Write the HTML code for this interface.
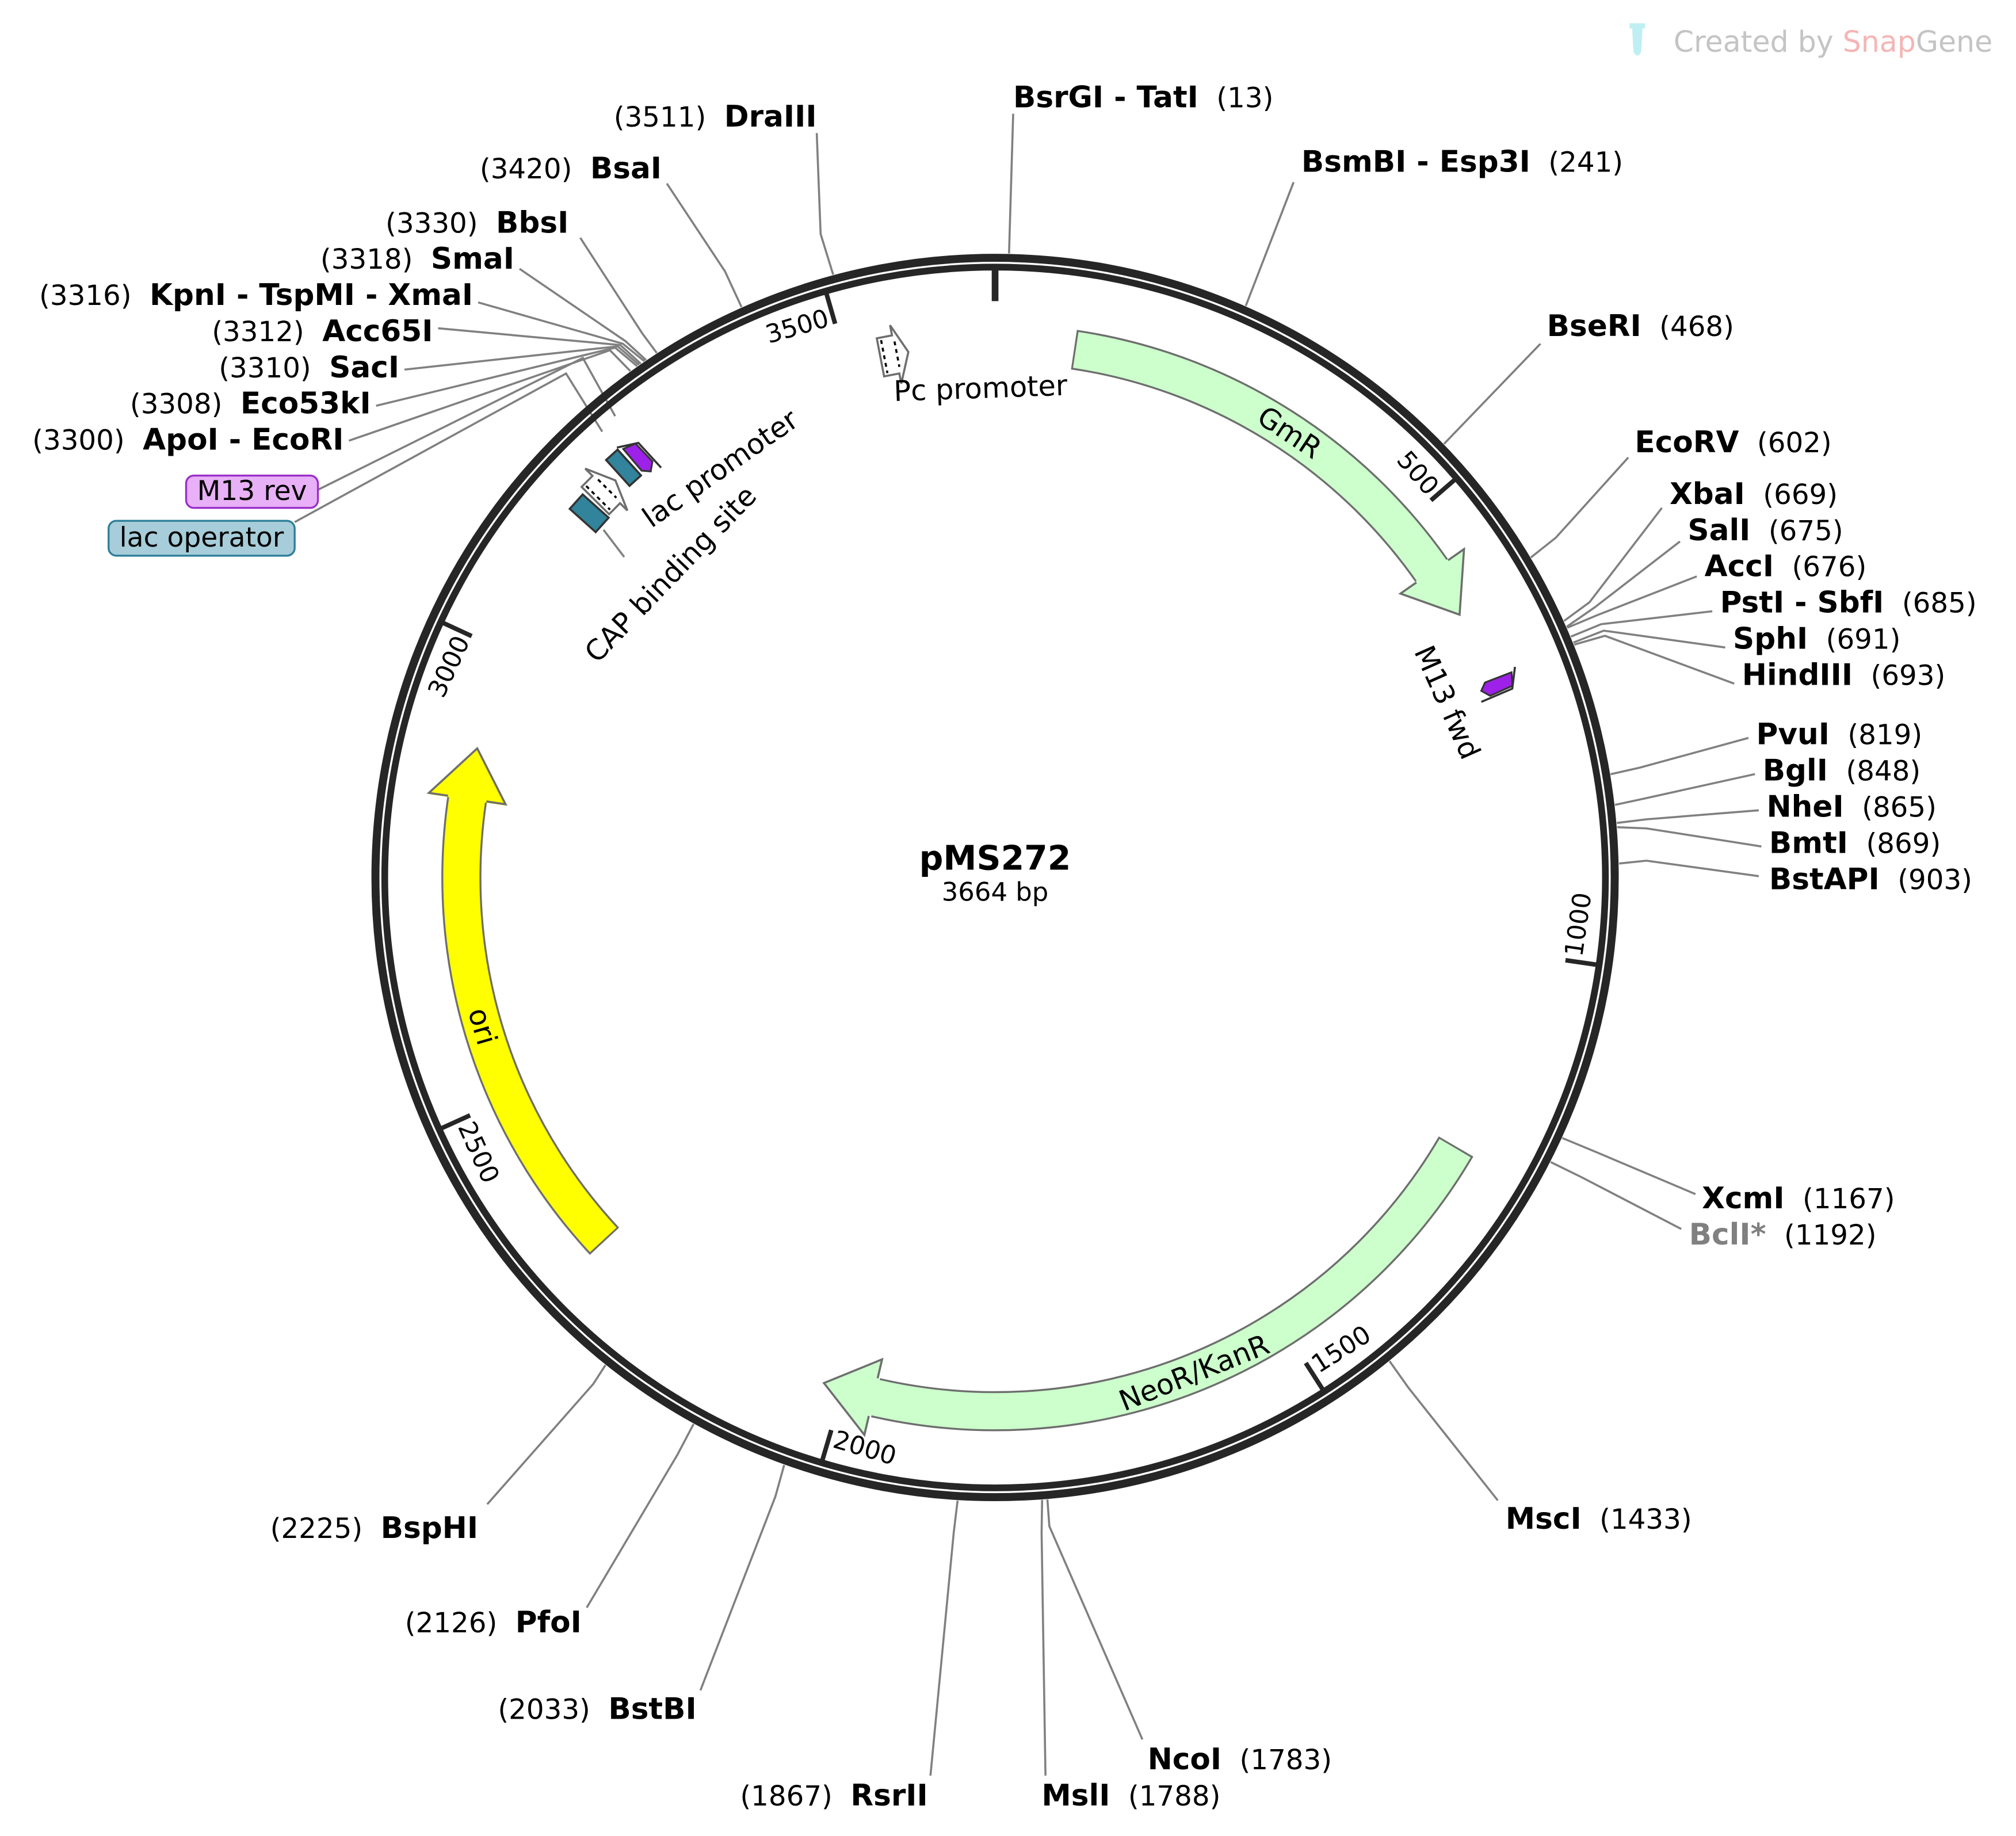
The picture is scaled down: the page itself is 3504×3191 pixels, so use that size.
<!DOCTYPE html>
<html><head><meta charset="utf-8"><style>
html,body{margin:0;padding:0;background:#fff;}
svg{display:block;font-family:"DejaVu Sans","Liberation Sans",sans-serif;}
</style></head><body>
<svg width="3504" height="3191" viewBox="0 0 1560 1420.7" xmlns="http://www.w3.org/2000/svg">
<rect x="0" y="0" width="1560" height="1421" fill="#fff"/>
<!-- SnapGene logo -->
<g transform="translate(-5,0)">
<rect x="1266" y="18" width="12" height="4" fill="#bfeff2"/>
<path d="M1268 22 L1276 22 L1275 40 Q1272 46 1269 40 Z" fill="#bfeff2"/>
<text x="1300" y="40" font-size="22.5" fill="#c4c4c4">Created by <tspan fill="#f5b5b5">Snap</tspan><tspan fill="#c4c4c4">Gene</tspan></text>
</g>
<g transform="translate(-6,-4)">
<!-- site lines -->
<g fill="none" stroke="#808080" stroke-width="1.6">
<polyline points="650.7,216.5 641,185 638,107"/>
<polyline points="579.8,241.6 567,214 522,146"/>
<polyline points="514.2,277.1 503,262 455,188"/>
<polyline points="505.9,282.6 490,268 408,212"/>
<polyline points="504.6,283.5 488,270 376,238"/>
<polyline points="501.8,285.4 486,271 345,258"/>
<polyline points="500.4,286.3 484,272 319,290"/>
<polyline points="499,287.3 482,273 297,318"/>
<polyline points="493.7,291.1 478,275 276,345"/>
<polyline points="252,383 457,281 482,326"/>
<polyline points="234,408 444,293 472,338"/>
<polyline points="473,414 489,435"/>
<polyline points="786.8,200.1 790,92"/>
<polyline points="970,240.7 1007,145"/>
<polyline points="1123.4,347.5 1198,270"/>
<polyline points="1190.6,435.4 1210,420 1266,358"/>
<polyline points="1216.3,484.5 1236,470 1292,397"/>
<polyline points="1218.3,489 1240,474 1306,423"/>
<polyline points="1218.7,489.8 1242,480 1319,450"/>
<polyline points="1221.6,496.6 1245,487 1331,477"/>
<polyline points="1223.5,501.2 1247,492 1341,505"/>
<polyline points="1224.1,502.8 1248,496 1348,533"/>
<polyline points="1252.3,603.1 1275,598 1359,575"/>
<polyline points="1255.7,626.8 1278,622 1364,603"/>
<polyline points="1257.2,640.8 1280,638 1367,631"/>
<polyline points="1257.4,644.1 1280,645 1369,659"/>
<polyline points="1258.9,672.2 1280,670 1367,682"/>
<polyline points="1214.9,884.6 1240,895 1318,928"/>
<polyline points="1205.9,903.2 1230,915 1307,955"/>
<polyline points="1081.3,1057.3 1096,1078 1165,1165"/>
<polyline points="816.5,1164.3 818,1185 890,1350"/>
<polyline points="812.4,1164.6 812,1190 815,1378"/>
<polyline points="747,1165.1 744,1190 726,1378"/>
<polyline points="612.8,1137.6 606,1162 548,1312"/>
<polyline points="542.7,1105.9 530,1130 460,1248"/>
<polyline points="474.5,1060.3 465,1075 383,1168"/>
</g>
<!-- ring -->
<circle cx="776" cy="683" r="479.5" fill="none" stroke="#262626" stroke-width="6.2"/>
<circle cx="776" cy="683" r="472.3" fill="none" stroke="#262626" stroke-width="5.2"/>
<!-- ticks -->
<g stroke="#262626">
<line x1="776" y1="213" x2="776" y2="237" stroke-width="5.2"/>
<line x1="776" y1="213" x2="776" y2="237" stroke-width="3.5" transform="rotate(49.13 776 683)"/>
<line x1="776" y1="213" x2="776" y2="237" stroke-width="3.5" transform="rotate(98.25 776 683)"/>
<line x1="776" y1="213" x2="776" y2="237" stroke-width="3.5" transform="rotate(147.38 776 683)"/>
<line x1="776" y1="213" x2="776" y2="237" stroke-width="3.5" transform="rotate(196.51 776 683)"/>
<line x1="776" y1="213" x2="776" y2="237" stroke-width="3.5" transform="rotate(245.63 776 683)"/>
<line x1="776" y1="213" x2="776" y2="237" stroke-width="3.5" transform="rotate(294.76 776 683)"/>
<line x1="776" y1="213" x2="776" y2="237" stroke-width="3.5" transform="rotate(343.89 776 683)"/>
</g>
<g font-size="19.5" fill="#000" dominant-baseline="central">
<text x="772" y="231" text-anchor="end" transform="rotate(49.13 776 683)">500</text>
<g transform="rotate(98.25 776 683)"><text x="780" y="231" transform="rotate(180 776 231)">1000</text></g>
<g transform="rotate(147.38 776 683)"><text x="780" y="231" transform="rotate(180 776 231)">1500</text></g>
<g transform="rotate(196.51 776 683)"><text x="780" y="231" transform="rotate(180 776 231)">2000</text></g>
<g transform="rotate(245.63 776 683)"><text x="780" y="231" transform="rotate(180 776 231)">2500</text></g>
<text x="772" y="231" text-anchor="end" transform="rotate(294.76 776 683)">3000</text>
<text x="772" y="231" text-anchor="end" transform="rotate(343.89 776 683)">3500</text>
</g>
<!-- features -->
<g transform="rotate(-90 776 683)" fill="none">
<circle cx="776" cy="683" r="413" pathLength="360" stroke="#6e6e6e" stroke-width="31" stroke-dasharray="46.5 999" stroke-dashoffset="-8.5"/>
<circle cx="776" cy="683" r="413" pathLength="360" stroke="#ccffcc" stroke-width="28" stroke-dasharray="46.9 999" stroke-dashoffset="-8.7"/>
<circle cx="776" cy="683" r="413" pathLength="360" stroke="#6e6e6e" stroke-width="31" stroke-dasharray="72.7 999" stroke-dashoffset="-120.3"/>
<circle cx="776" cy="683" r="413" pathLength="360" stroke="#ccffcc" stroke-width="28" stroke-dasharray="73.1 999" stroke-dashoffset="-120.5"/>
<circle cx="776" cy="683" r="413" pathLength="360" stroke="#6e6e6e" stroke-width="31" stroke-dasharray="51.4 999" stroke-dashoffset="-227.1"/>
<circle cx="776" cy="683" r="413" pathLength="360" stroke="#ffff00" stroke-width="28" stroke-dasharray="51.8 999" stroke-dashoffset="-227.3"/>
</g>
<g transform="rotate(55 776 683)">
<polygon points="775,240 815.6,271.9 775,300" fill="#ccffcc"/>
<polyline points="776,255 776,240 815.6,271.9 776,300 776,285" fill="none" stroke="#6e6e6e" stroke-width="1.6"/>
</g>
<g transform="rotate(193.2 776 683)">
<polygon points="775,240 815.6,271.9 775,300" fill="#ccffcc"/>
<polyline points="776,255 776,240 815.6,271.9 776,300 776,285" fill="none" stroke="#6e6e6e" stroke-width="1.6"/>
</g>
<g transform="rotate(278.5 776 683)">
<polygon points="775,240 815.6,271.9 775,300" fill="#ffff00"/>
<polyline points="776,255 776,240 815.6,271.9 776,300 776,285" fill="none" stroke="#6e6e6e" stroke-width="1.6"/>
</g>
<g font-size="22" fill="#000" dominant-baseline="central" text-anchor="middle">
<text x="776" y="270" transform="rotate(33.5 776 683)">GmR</text>
<g transform="rotate(158.1 776 683)"><text x="776" y="270" transform="rotate(180 776 270)">NeoR/KanR</text></g>
<g transform="rotate(253.8 776 683)"><text x="776" y="270" transform="rotate(180 776 270)">ori</text></g>
</g>
<!-- promoters -->
<g transform="rotate(-10.9 776 683)">
<g transform="translate(776,271)">
<polygon points="-11,-15 1,-15 1,-23 11,0 1,23 1,15 -11,15" fill="#fff" stroke="#6e6e6e" stroke-width="1.6"/>
<line x1="-8" y1="-13" x2="-8" y2="13" stroke="#000" stroke-width="1.6" stroke-dasharray="3 3"/>
<line x1="2" y1="-10" x2="2" y2="10" stroke="#000" stroke-width="1.6" stroke-dasharray="3 3"/>
</g></g>
<g transform="rotate(-45.2 776 683)">
<g transform="translate(776,258)">
<polygon points="-11,-15 1,-15 1,-23 11,0 1,23 1,15 -11,15" fill="#fff" stroke="#6e6e6e" stroke-width="1.6"/>
<line x1="-8" y1="-13" x2="-8" y2="13" stroke="#000" stroke-width="1.6" stroke-dasharray="3 3"/>
<line x1="2" y1="-10" x2="2" y2="10" stroke="#000" stroke-width="1.6" stroke-dasharray="3 3"/>
</g></g>
<g transform="rotate(-48.1 776 683)">
<rect x="768.5" y="247.5" width="15" height="27" fill="#31849b" stroke="#333" stroke-width="1.6"/>
</g>
<g transform="rotate(-42.2 776 683)">
<rect x="770" y="241.5" width="12" height="27" fill="#31849b" stroke="#333" stroke-width="1.6"/>
</g>
<g transform="rotate(-40.3 776 683)">
<g transform="translate(776,256)">
<polygon points="-5,-12 5,-9 6,10 0,15 -5,10" fill="#9d21e8" stroke="#333" stroke-width="1.4"/>
<polyline points="-8,-16 7,-8 8,18" fill="none" stroke="#333" stroke-width="1.6"/>
</g></g>
<g transform="rotate(69 776 683)">
<g transform="translate(776,265)">
<polygon points="-5,-12 5,-9 6,10 0,15 -5,10" fill="#9d21e8" stroke="#333" stroke-width="1.4"/>
<polyline points="-8,-16 7,-8 8,18" fill="none" stroke="#333" stroke-width="1.6"/>
</g></g>
<g font-size="22" fill="#000">
<text x="765" y="312" text-anchor="middle" transform="rotate(-2 765 312)">Pc promoter</text>
<text x="510" y="413" transform="rotate(-35 510 413)">lac promoter</text>
<text x="468" y="518" transform="rotate(-46 468 518)">CAP binding site</text>
<text x="1100" y="508" transform="rotate(66 1100 508)">M13 fwd</text>
</g>
<!-- title -->
<text x="776" y="677" font-size="26" font-weight="bold" text-anchor="middle">pMS272</text>
<text x="776" y="701" font-size="20" text-anchor="middle">3664 bp</text>
<!-- boxes -->
<rect x="150" y="372" width="102" height="25" rx="6" fill="#e8b0f6" stroke="#9b2fc9" stroke-width="1.5"/>
<text x="201" y="391" font-size="21" text-anchor="middle">M13 rev</text>
<rect x="90" y="407" width="144" height="27" rx="6" fill="#a6cdd9" stroke="#2e7f99" stroke-width="1.5"/>
<text x="162" y="427" font-size="21" text-anchor="middle">lac operator</text>
<!-- site labels -->
<g font-size="21.5" fill="#000">
<text x="638" y="102" text-anchor="end">(3511)<tspan dx="14" font-weight="bold" font-size="23">DraIII</tspan></text>
<text x="518" y="142" text-anchor="end">(3420)<tspan dx="14" font-weight="bold" font-size="23">BsaI</tspan></text>
<text x="446" y="184" text-anchor="end">(3330)<tspan dx="14" font-weight="bold" font-size="23">BbsI</tspan></text>
<text x="404" y="212" text-anchor="end">(3318)<tspan dx="14" font-weight="bold" font-size="23">SmaI</tspan></text>
<text x="372" y="240" text-anchor="end">(3316)<tspan dx="14" font-weight="bold" font-size="23">KpnI - TspMI - XmaI</tspan></text>
<text x="341" y="268" text-anchor="end">(3312)<tspan dx="14" font-weight="bold" font-size="23">Acc65I</tspan></text>
<text x="315" y="296" text-anchor="end">(3310)<tspan dx="14" font-weight="bold" font-size="23">SacI</tspan></text>
<text x="293" y="324" text-anchor="end">(3308)<tspan dx="14" font-weight="bold" font-size="23">Eco53kI</tspan></text>
<text x="272" y="352" text-anchor="end">(3300)<tspan dx="14" font-weight="bold" font-size="23">ApoI - EcoRI</tspan></text>
<text x="724" y="1401" text-anchor="end">(1867)<tspan dx="14" font-weight="bold" font-size="23">RsrII</tspan></text>
<text x="545" y="1334" text-anchor="end">(2033)<tspan dx="14" font-weight="bold" font-size="23">BstBI</tspan></text>
<text x="456" y="1267" text-anchor="end">(2126)<tspan dx="14" font-weight="bold" font-size="23">PfoI</tspan></text>
<text x="376" y="1194" text-anchor="end">(2225)<tspan dx="14" font-weight="bold" font-size="23">BspHI</tspan></text>

<text x="790" y="87"><tspan font-weight="bold" font-size="23">BsrGI - TatI</tspan><tspan dx="14">(13)</tspan></text>
<text x="1013" y="137"><tspan font-weight="bold" font-size="23">BsmBI - Esp3I</tspan><tspan dx="14">(241)</tspan></text>
<text x="1203" y="264"><tspan font-weight="bold" font-size="23">BseRI</tspan><tspan dx="14">(468)</tspan></text>
<text x="1271" y="354"><tspan font-weight="bold" font-size="23">EcoRV</tspan><tspan dx="14">(602)</tspan></text>
<text x="1298" y="394"><tspan font-weight="bold" font-size="23">XbaI</tspan><tspan dx="14">(669)</tspan></text>
<text x="1312" y="422"><tspan font-weight="bold" font-size="23">SalI</tspan><tspan dx="14">(675)</tspan></text>
<text x="1325" y="450"><tspan font-weight="bold" font-size="23">AccI</tspan><tspan dx="14">(676)</tspan></text>
<text x="1337" y="478"><tspan font-weight="bold" font-size="23">PstI - SbfI</tspan><tspan dx="14">(685)</tspan></text>
<text x="1347" y="506"><tspan font-weight="bold" font-size="23">SphI</tspan><tspan dx="14">(691)</tspan></text>
<text x="1354" y="534"><tspan font-weight="bold" font-size="23">HindIII</tspan><tspan dx="14">(693)</tspan></text>
<text x="1365" y="580"><tspan font-weight="bold" font-size="23">PvuI</tspan><tspan dx="14">(819)</tspan></text>
<text x="1370" y="608"><tspan font-weight="bold" font-size="23">BglI</tspan><tspan dx="14">(848)</tspan></text>
<text x="1373" y="636"><tspan font-weight="bold" font-size="23">NheI</tspan><tspan dx="14">(865)</tspan></text>
<text x="1375" y="664"><tspan font-weight="bold" font-size="23">BmtI</tspan><tspan dx="14">(869)</tspan></text>
<text x="1375" y="692"><tspan font-weight="bold" font-size="23">BstAPI</tspan><tspan dx="14">(903)</tspan></text>
<text x="1323" y="939"><tspan font-weight="bold" font-size="23">XcmI</tspan><tspan dx="14">(1167)</tspan></text>
<text x="1313" y="967"><tspan font-weight="bold" font-size="23" fill="#808080">BclI*</tspan><tspan dx="14">(1192)</tspan></text>
<text x="1171" y="1187"><tspan font-weight="bold" font-size="23">MscI</tspan><tspan dx="14">(1433)</tspan></text>
<text x="894" y="1373"><tspan font-weight="bold" font-size="23">NcoI</tspan><tspan dx="14">(1783)</tspan></text>
<text x="812" y="1401"><tspan font-weight="bold" font-size="23">MslI</tspan><tspan dx="14">(1788)</tspan></text>
</g>
</g>
</svg>
</body></html>
